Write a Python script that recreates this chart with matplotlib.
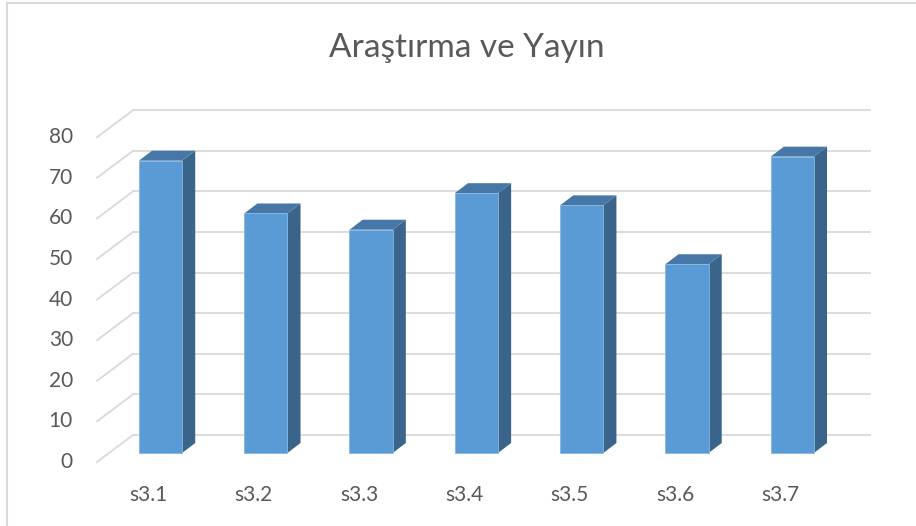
import matplotlib
matplotlib.use('Agg')
import matplotlib.pyplot as plt
from matplotlib.patches import Polygon, Rectangle
from matplotlib.lines import Line2D

# Chart data
categories = ['s3.1', 's3.2', 's3.3', 's3.4', 's3.5', 's3.6', 's3.7']
values = [72, 59, 55, 64, 61, 46.5, 73]
yticks = [0, 10, 20, 30, 40, 50, 60, 70, 80]
title = 'Araştırma ve Yayın'

# Colours (Excel-like 3D column)
frontColor = '#5B9BD5'
topColor = '#4777A6'
sideColor = '#3A6489'
gridColor = '#D9D9D9'
textColor = '#595959'

plt.rcParams['font.family'] = ['Lato', 'DejaVu Sans']

# Pseudo-3D geometry in data units (category units on x, value units on y)
barWidth = 0.41
barDepth = (0.125, 2.46)      # side/top offset of each column
floorFront = (-0.114, -2.22)  # front edge of floor relative to bars
backWall = (0.228, 4.43)      # back wall relative to bars
gridLeft = -0.603             # front-left start of the diagonal grid lines
gridRight = 6.738             # right end of the back wall lines

fig = plt.figure(figsize=(9.16, 5.26), dpi=100)
ax = fig.add_axes([0, 0, 1, 1])
ax.set_xlim(-1.524, 7.175)
ax.set_ylim(-17.98, 111.58)
ax.axis('off')

# Grid: diagonal side lines plus horizontal lines on the back wall
for v in yticks:
    y0 = v + floorFront[1]
    y1 = v + backWall[1]
    x1 = gridLeft + (backWall[0] - floorFront[0])
    ax.add_line(Line2D([gridLeft, x1], [y0, y1], color=gridColor, lw=1.3, zorder=1))
    ax.add_line(Line2D([x1, gridRight], [y1, y1], color=gridColor, lw=1.3, zorder=1))
    # Value labels on the front edge
    ax.text(gridLeft - 0.228, y0, str(v), ha='right', va='center',
            fontsize=15, color=textColor)

# Columns: front face, top and right side
dx, dy = barDepth
for i, v in enumerate(values):
    x0 = i - barWidth / 2
    x1 = i + barWidth / 2
    ax.add_patch(Polygon([[x1, 0], [x1 + dx, dy], [x1 + dx, v + dy], [x1, v]],
                         closed=True, facecolor=sideColor, edgecolor='none', zorder=3))
    ax.add_patch(Polygon([[x0, v], [x1, v], [x1 + dx, v + dy], [x0 + dx, v + dy]],
                         closed=True, facecolor=topColor, edgecolor='none', zorder=3))
    ax.add_patch(Rectangle((x0, 0), barWidth, v, facecolor=frontColor,
                           edgecolor='#86B6E2', lw=0.6, zorder=4))
    # Category label, sitting on the front edge of the floor
    ax.text(i + floorFront[0], -10.3, categories[i], ha='center', va='center',
            fontsize=15, color=textColor)

# Title
fig.text(467 / 916, 0.908, title, ha='center', va='center', fontsize=24,
         color=textColor)

# Chart-area border (left and top edges visible)
fig.add_artist(Line2D([7 / 916, 7 / 916], [0, 1 - 3 / 526], transform=fig.transFigure,
                      color=gridColor, lw=1.5))
fig.add_artist(Line2D([7 / 916, 1], [1 - 3 / 526, 1 - 3 / 526], transform=fig.transFigure,
                      color=gridColor, lw=1.5))

fig.savefig('out.png', dpi=100, facecolor='white')
